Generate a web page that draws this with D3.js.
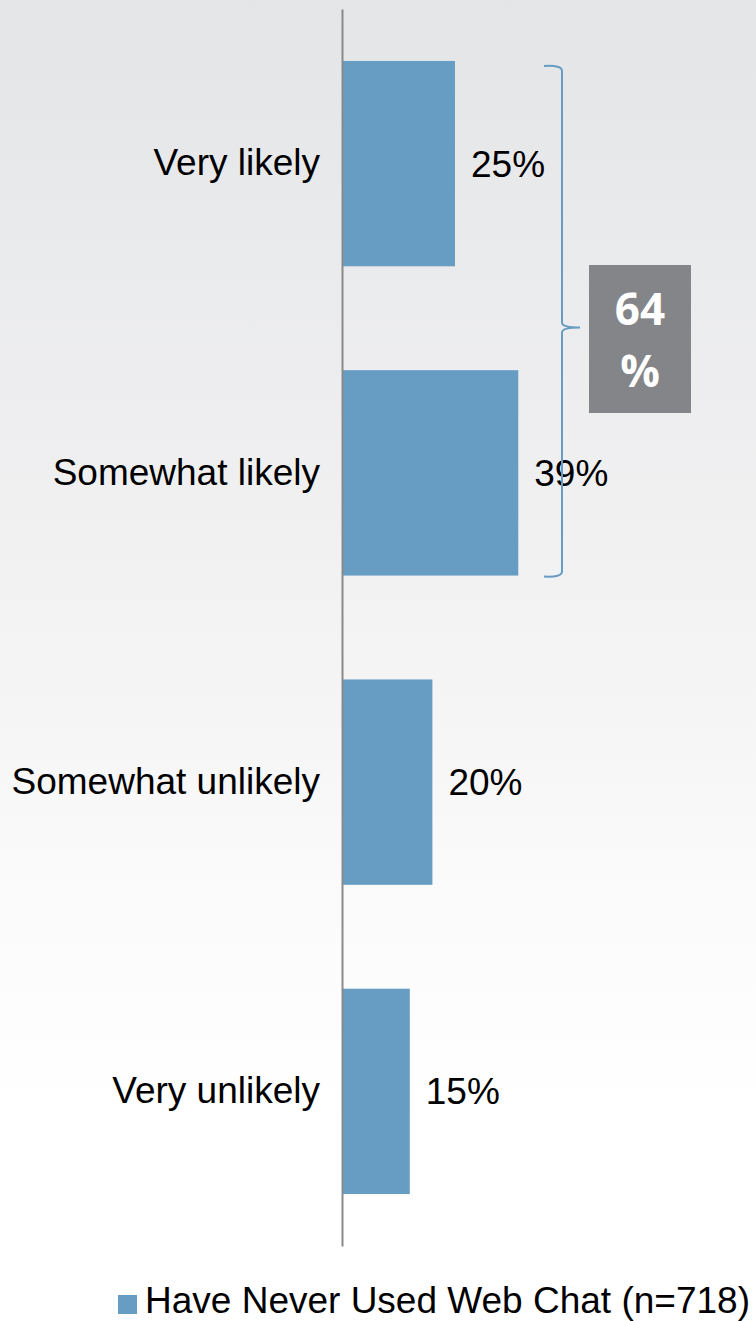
<!DOCTYPE html>
<html>
<head>
<meta charset="utf-8">
<script src="https://cdn.jsdelivr.net/npm/d3@7"></script>
<style>
html,body{margin:0;padding:0;}
svg{display:block;}
svg text{font-family:"Liberation Sans", Arial, Helvetica, sans-serif;}
svg text.box{font-family:"Open Sans", sans-serif;}
</style>
</head>
<body>
<svg id="chart" width="756" height="1321"></svg>
<script>
const categories = ["Very likely", "Somewhat likely", "Somewhat unlikely", "Very unlikely"];
const values = [25, 39, 20, 15];
const seriesName = "Have Never Used Web Chat (n=718)";
const bracketLabel = ["64", "%"];
const bracketCats = ["Very likely", "Somewhat likely"];

const W = 756, H = 1321;
const svg = d3.select("#chart");
const defs = svg.append("defs");
const grad = defs.append("linearGradient").attr("id","bg").attr("x1",0).attr("y1",0).attr("x2",0).attr("y2",1);
grad.append("stop").attr("offset","0").attr("stop-color","#e4e5e7");
grad.append("stop").attr("offset","0.45").attr("stop-color","#f2f2f3");
grad.append("stop").attr("offset","0.72").attr("stop-color","#fcfcfc");
grad.append("stop").attr("offset","0.85").attr("stop-color","#ffffff");
svg.append("rect").attr("width",W).attr("height",H).attr("fill","url(#bg)");

const barColor = "#679cc3";
const x0 = 342;
const x = d3.scaleLinear().domain([0, 100]).range([x0, x0 + 452]);
const y = d3.scaleBand().domain(categories).range([9, 1246]).paddingInner(0.336).paddingOuter(0.168);

svg.selectAll("rect.bar").data(categories).enter().append("rect")
  .attr("class","bar")
  .attr("x", x(0) + 1)
  .attr("y", d => y(d))
  .attr("width", (d,i) => x(values[i]) - x(0) - 1)
  .attr("height", y.bandwidth())
  .attr("fill", barColor);

// axis
const axis = d3.axisLeft(y).tickSize(0).tickPadding(22);
const ax = svg.append("g").attr("transform", `translate(${x0},0)`).call(axis);
ax.attr("font-family", null);
ax.select(".domain").attr("stroke","#8a8a8a").attr("stroke-width",2);
ax.selectAll("text").attr("font-size",37).attr("fill","#000");

// value labels
svg.selectAll("text.val").data(categories).enter().append("text")
  .attr("class","val")
  .attr("x", (d,i) => x(values[i]) + 16)
  .attr("y", d => y(d) + y.bandwidth()/2)
  .attr("dy","0.35em")
  .attr("font-size",37)
  .attr("fill","#000")
  .text((d,i) => values[i] + "%");

// bracket
const bTop = y(bracketCats[0]) + 5;
const bBot = y(bracketCats[1]) + y.bandwidth() + 1;
const bMid = bTop + (bBot - bTop) * 0.512;
const bx = 562, bl = 544, tip = 580, r = 5;
const p = d3.path();
p.moveTo(bl, bTop);
p.quadraticCurveTo(bx, bTop - 1, bx, bTop + r);
p.lineTo(bx, bMid - r);
p.quadraticCurveTo(bx, bMid, tip, bMid);
p.quadraticCurveTo(bx, bMid, bx, bMid + r);
p.lineTo(bx, bBot - r);
p.quadraticCurveTo(bx, bBot + 1, bl, bBot);
svg.append("path").attr("d", p.toString()).attr("fill","none")
  .attr("stroke", barColor).attr("stroke-width",2);

// box
svg.append("rect").attr("x",589).attr("y",265).attr("width",102).attr("height",148).attr("fill","#848589");
svg.append("text").attr("class","box").attr("x",640).attr("y",325).attr("text-anchor","middle")
  .attr("font-weight","bold").attr("font-size",44).attr("fill","#fff").text(bracketLabel[0]);
svg.append("text").attr("class","box").attr("x",640).attr("y",387).attr("text-anchor","middle")
  .attr("font-weight","bold").attr("font-size",44).attr("fill","#fff").text(bracketLabel[1]);

// legend
svg.append("rect").attr("x",118).attr("y",1295).attr("width",19).attr("height",19).attr("fill",barColor);
svg.append("text").attr("x",145).attr("y",1313)
  .attr("font-size",37).attr("fill","#000").text(seriesName);
</script>
</body>
</html>
